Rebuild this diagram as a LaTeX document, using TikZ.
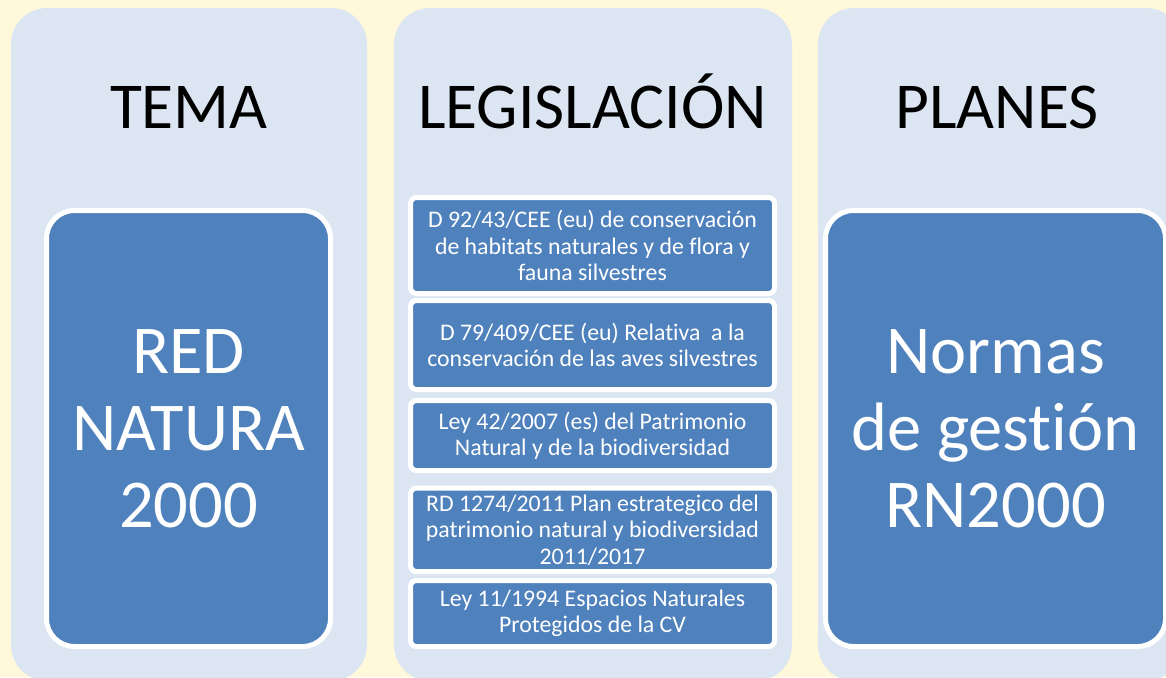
\documentclass[tikz,border=0pt]{standalone}
\usepackage{fontspec}
\setmainfont{Carlito}[Ligatures=CommonOff]
\definecolor{bgyellow}{HTML}{FFF8DA}
\definecolor{colbg}{HTML}{DCE6F2}
\definecolor{boxblue}{HTML}{4F81BD}
\tikzset{
  column/.style={fill=colbg, rounded corners=36},
  title/.style={anchor=base, font=\fontsize{65.5}{72}\selectfont, text=black},
  bigbox/.style={draw=white, line width=5pt, fill=boxblue, rounded corners=28,
    text=white, align=center, inner sep=0pt, font=\fontsize{68.5}{77}\selectfont},
  lawbox/.style={draw=white, line width=5pt, fill=boxblue, rounded corners=6,
    text=white, align=center, inner sep=0pt, minimum width=364,
    font=\fontsize{23.8}{26.5}\selectfont}
}
\begin{document}
\begin{tikzpicture}[x=1pt,y=-1pt]
\useasboundingbox (0,0) rectangle (1166,677);
\clip (0,0) rectangle (1166,677);
\fill[bgyellow] (0,0) rectangle (1166,677);
% columns
\fill[column] (11,8) rectangle (367,681);
\fill[column] (394,8) rectangle (792,681);
\fill[column] (818,8) rectangle (1182,681);
% titles
\node[title] (tema) at (189,128) {TEMA};
\node[title] (legis) at (592.5,128) {LEGISLACIÓN};
\node[title] (planes) at (997,128) {PLANES};
% big boxes
\node[bigbox, minimum width=284, minimum height=436] (red) at (188.5,428.5)
  {RED\\NATURA\\2000};
\node[bigbox, minimum width=340, minimum height=436] (normas) at (995.5,428.5)
  {Normas\\de gestión\\RN2000};
% law boxes
\node[lawbox, minimum height=96] (d92) at (592.5,245.5)
  {D 92/43/CEE (eu) de conservación\\de habitats naturales y de flora y\\fauna silvestres};
\node[lawbox, minimum height=89] (d79) at (592.5,345)
  {D 79/409/CEE (eu) Relativa\ \ a la\\conservación de las aves silvestres};
\node[lawbox, minimum height=70] (ley42) at (592.5,435.5)
  {Ley 42/2007 (es) del Patrimonio\\Natural y de la biodiversidad};
\node[lawbox, minimum height=83.5] (rd) at (592.5,529.75)
  {RD 1274/2011 Plan estrategico del\\patrimonio natural y biodiversidad\\2011/2017};
\node[lawbox, minimum height=66] (ley11) at (592.5,613.5)
  {Ley 11/1994 Espacios Naturales\\Protegidos de la CV};
\end{tikzpicture}
\end{document}
